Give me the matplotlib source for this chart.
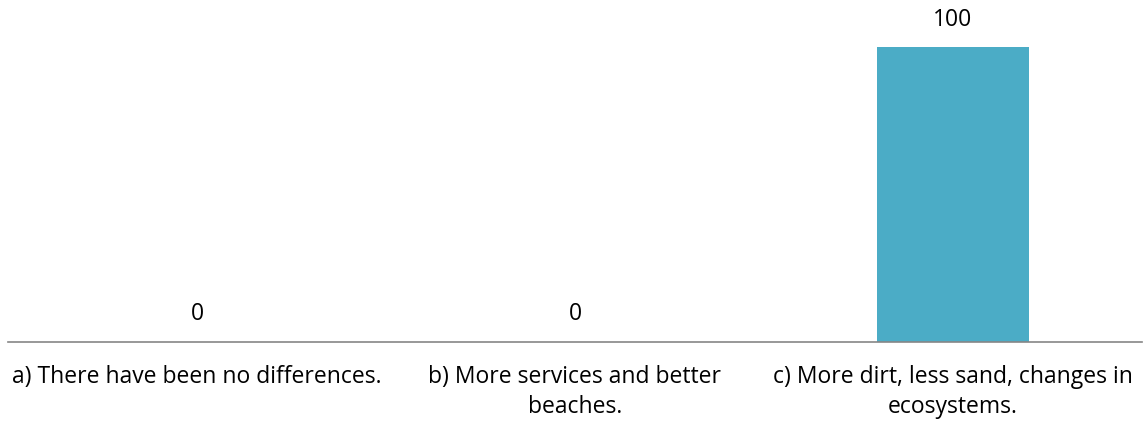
import matplotlib
import matplotlib.pyplot as plt
import numpy as np

matplotlib.rc('font', family=['Open Sans', 'DejaVu Sans'], size=16.5)

categories = ['a) There have been no differences.',
              'b) More services and better\nbeaches.',
              'c) More dirt, less sand, changes in\necosystems.']
values = [0, 0, 100]

bar_color = '#4BACC6'
axis_color = '#868686'

fig = plt.figure(figsize=(11.43, 4.24), dpi=100)
ax = fig.add_axes([8/1143, 82.5/424, 1134/1143, 341.5/424])

ind = np.arange(len(categories))
ax.bar(ind, values, width=0.4, color=bar_color)

# value labels above each bar
for x, v in zip(ind, values):
  ax.annotate(str(v), (x, v), xytext=(0, 19.5), textcoords='offset points',
              ha='center', va='center', fontsize=16.5, color='black')

ax.set_xlim(-0.5, 2.5)
ax.set_ylim(0, 116)
ax.set_xticks(ind)
ax.set_xticklabels(categories, ha='center', va='top', linespacing=1.35)
ax.tick_params(axis='x', length=0, pad=17)
ax.set_yticks([])
for s in ['top', 'left', 'right']:
  ax.spines[s].set_visible(False)
ax.spines['bottom'].set_color(axis_color)
ax.spines['bottom'].set_linewidth(1.2)

plt.savefig('out.png', dpi=100)
